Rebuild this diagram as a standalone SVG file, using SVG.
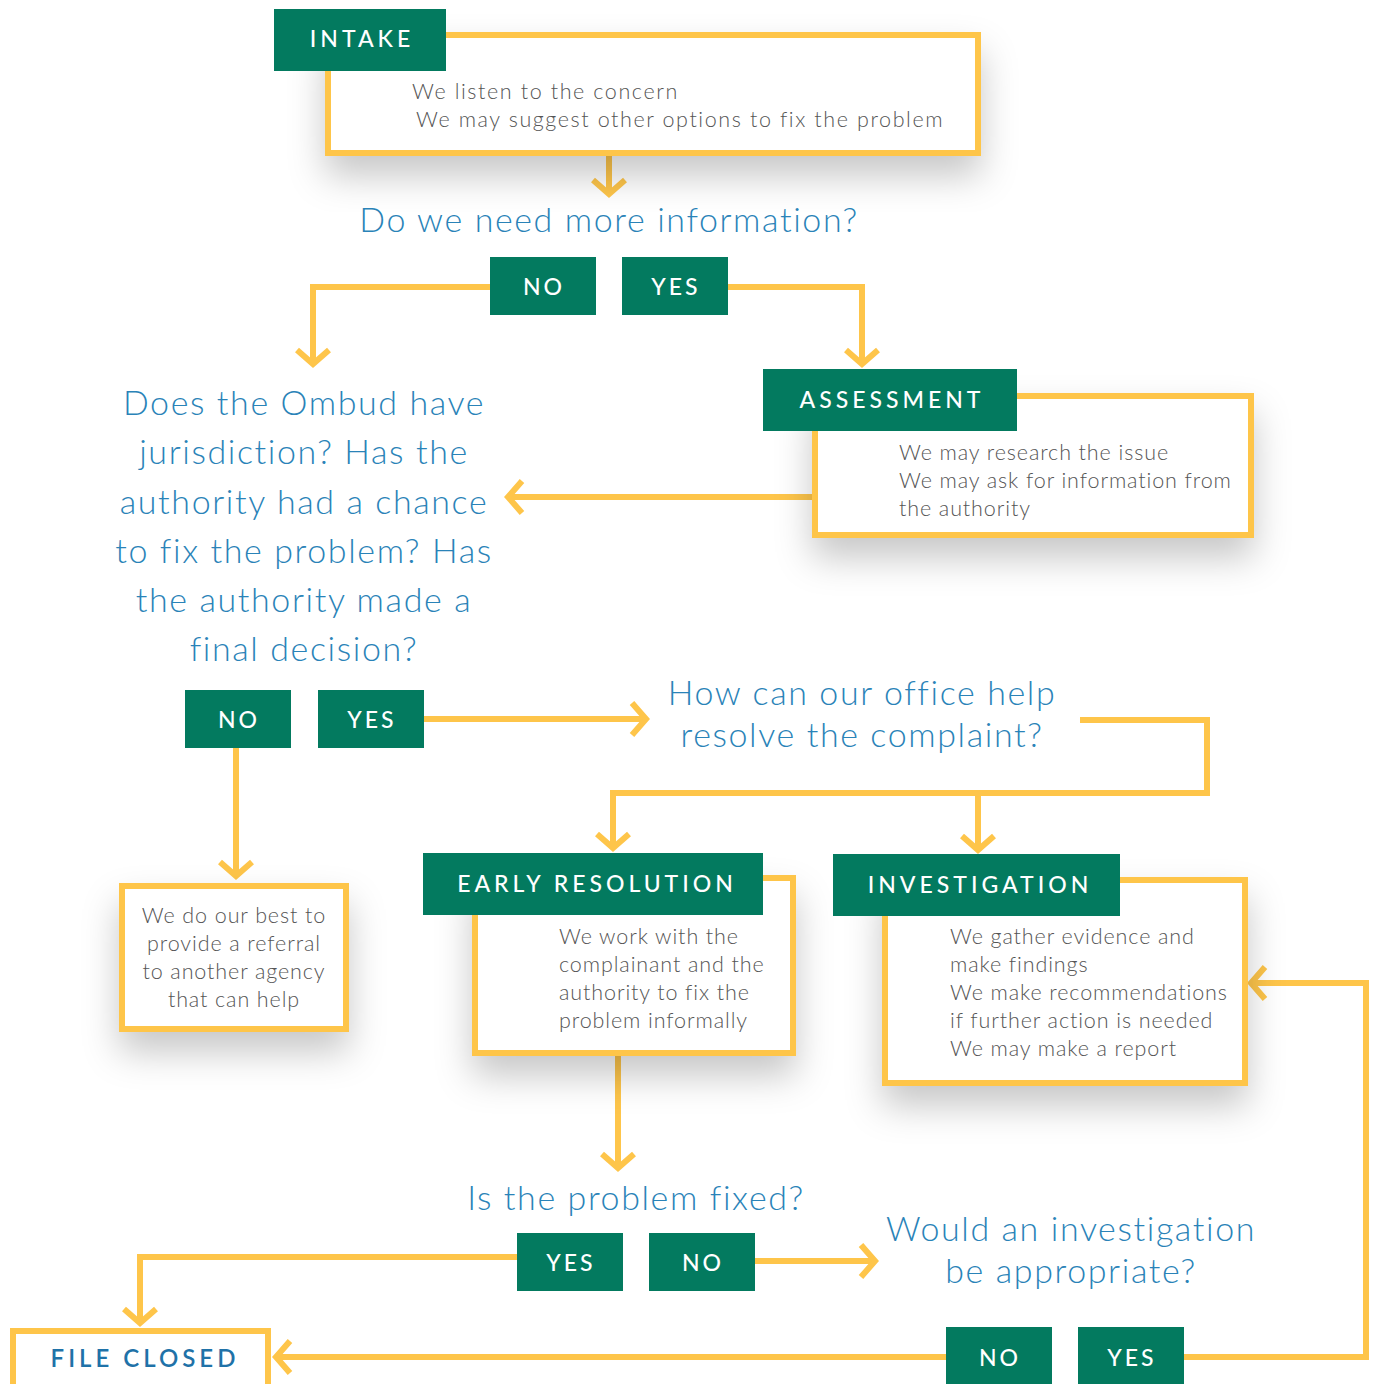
<svg xmlns="http://www.w3.org/2000/svg" width="1374" height="1384" viewBox="0 0 1374 1384">
<defs>
<style>
.lbl{fill:#037a5f}
.lt{font-family:Lato,"Liberation Sans",sans-serif;font-size:23px;fill:#fff;font-weight:500;letter-spacing:4px;text-anchor:middle}
.yn{letter-spacing:3px}
.box{fill:#fff;stroke:#fec54a;stroke-width:6}
.body{font-family:Lato,"Liberation Sans",sans-serif;font-size:21.5px;font-weight:300;fill:#555;letter-spacing:0.9px}
.wide{letter-spacing:1.6px}
.q{font-family:Lato,"Liberation Sans",sans-serif;font-size:34px;font-weight:300;fill:#2a83b8;text-anchor:middle;letter-spacing:1.6px}
.con{fill:none;stroke:#fec54a;stroke-width:6}
.arr{marker-end:url(#ah)}
</style>
<marker id="ah" markerUnits="userSpaceOnUse" viewBox="-20 -20 40 40" markerWidth="40" markerHeight="40" refX="0" refY="0" orient="auto" overflow="visible">
<path d="M-14,-16 L0,0 L-14,16" fill="none" stroke="#fec54a" stroke-width="6"/>
</marker>
<filter id="sh" x="-20%" y="-20%" width="140%" height="170%">
<feDropShadow dx="0" dy="20" stdDeviation="18" flood-color="#000" flood-opacity="0.22"/>
</filter>
</defs>

<g id="connectors">
<path class="con arr" d="M609,156 V194"/>
<path class="con arr" d="M490,287 H313 V364"/>
<path class="con arr" d="M728,287 H862 V364"/>
<path class="con arr" d="M812,497 H508"/>
<path class="con arr" d="M424,719 H646"/>
<path class="con arr" d="M236,748 V876"/>
<path class="con" d="M1080,720 H1207 V793 H613"/>
<path class="con arr" d="M613,790 V848"/>
<path class="con arr" d="M978,793 V850"/>
<path class="con arr" d="M618,1056 V1168"/>
<path class="con arr" d="M517,1257 H140 V1323"/>
<path class="con arr" d="M755,1261 H875"/>
<path class="con arr" d="M946,1357 H276"/>
<path class="con arr" d="M1184,1357 H1366 V983 H1251"/>
</g>

<g id="intake">
<rect class="box" x="328" y="35" width="650" height="118" filter="url(#sh)"/>
<rect class="lbl" x="274" y="9" width="172" height="62"/>
<text class="lt" x="362" y="47">INTAKE</text>
<text class="body wide" x="412" y="99">We listen to the concern</text>
<text class="body wide" x="416" y="127">We may suggest other options to fix the problem</text>
</g>

<g id="q-info">
<text class="q" x="609" y="232">Do we need more information?</text>
</g>
<g id="info-no">
<rect class="lbl" x="490" y="257" width="106" height="58"/>
<text class="lt yn" x="544" y="295">NO</text>
</g>
<g id="info-yes">
<rect class="lbl" x="622" y="257" width="106" height="58"/>
<text class="lt yn" x="676" y="295">YES</text>
</g>

<g id="assessment">
<rect class="box" x="815" y="396" width="436" height="139" filter="url(#sh)"/>
<rect class="lbl" x="763" y="369" width="254" height="62"/>
<text class="lt" x="892" y="408">ASSESSMENT</text>
<text class="body" x="899" y="460">We may research the issue</text>
<text class="body" x="899" y="488">We may ask for information from</text>
<text class="body" x="899" y="516">the authority</text>
</g>

<g id="q-jurisdiction">
<text class="q" x="304" y="415">Does the Ombud have</text>
<text class="q" x="304" y="464">jurisdiction? Has the</text>
<text class="q" x="304" y="514">authority had a chance</text>
<text class="q" x="304" y="563">to fix the problem? Has</text>
<text class="q" x="304" y="612">the authority made a</text>
<text class="q" x="304" y="661">final decision?</text>
</g>
<g id="jur-no">
<rect class="lbl" x="185" y="690" width="106" height="58"/>
<text class="lt yn" x="239" y="728">NO</text>
</g>
<g id="jur-yes">
<rect class="lbl" x="318" y="690" width="106" height="58"/>
<text class="lt yn" x="372" y="728">YES</text>
</g>

<g id="q-help">
<text class="q" x="862" y="705">How can our office help</text>
<text class="q" x="862" y="747">resolve the complaint?</text>
</g>

<g id="referral">
<rect class="box" x="122" y="886" width="224" height="143" filter="url(#sh)"/>
<text class="body" x="234" y="923" text-anchor="middle">We do our best to</text>
<text class="body" x="234" y="951" text-anchor="middle">provide a referral</text>
<text class="body" x="234" y="979" text-anchor="middle">to another agency</text>
<text class="body" x="234" y="1007" text-anchor="middle">that can help</text>
</g>

<g id="early-resolution">
<rect class="box" x="475" y="878" width="318" height="175" filter="url(#sh)"/>
<rect class="lbl" x="423" y="853" width="340" height="62"/>
<text class="lt" x="597" y="892">EARLY RESOLUTION</text>
<text class="body" x="559" y="944">We work with the</text>
<text class="body" x="559" y="972">complainant and the</text>
<text class="body" x="559" y="1000">authority to fix the</text>
<text class="body" x="559" y="1028">problem informally</text>
</g>

<g id="investigation">
<rect class="box" x="885" y="880" width="360" height="203" filter="url(#sh)"/>
<rect class="lbl" x="833" y="854" width="287" height="62"/>
<text class="lt" x="980" y="893">INVESTIGATION</text>
<text class="body" x="950" y="944">We gather evidence and</text>
<text class="body" x="950" y="972">make findings</text>
<text class="body" x="950" y="1000">We make recommendations</text>
<text class="body" x="950" y="1028">if further action is needed</text>
<text class="body" x="950" y="1056">We may make a report</text>
</g>

<g id="q-fixed">
<text class="q" x="636" y="1210">Is the problem fixed?</text>
</g>
<g id="fixed-yes">
<rect class="lbl" x="517" y="1233" width="106" height="58"/>
<text class="lt yn" x="571" y="1271">YES</text>
</g>
<g id="fixed-no">
<rect class="lbl" x="649" y="1233" width="106" height="58"/>
<text class="lt yn" x="703" y="1271">NO</text>
</g>

<g id="q-investigation">
<text class="q" x="1071" y="1241">Would an investigation</text>
<text class="q" x="1071" y="1283">be appropriate?</text>
</g>
<g id="inv-no">
<rect class="lbl" x="946" y="1327" width="106" height="60"/>
<text class="lt yn" x="1000" y="1366">NO</text>
</g>
<g id="inv-yes">
<rect class="lbl" x="1078" y="1327" width="106" height="60"/>
<text class="lt yn" x="1132" y="1366">YES</text>
</g>

<g id="file-closed">
<rect class="box" x="13" y="1331" width="255" height="60"/>
<text x="145" y="1367" font-family="Lato,'Liberation Sans',sans-serif" font-size="24" font-weight="600" fill="#1f72a8" letter-spacing="4" text-anchor="middle">FILE CLOSED</text>
</g>
</svg>
